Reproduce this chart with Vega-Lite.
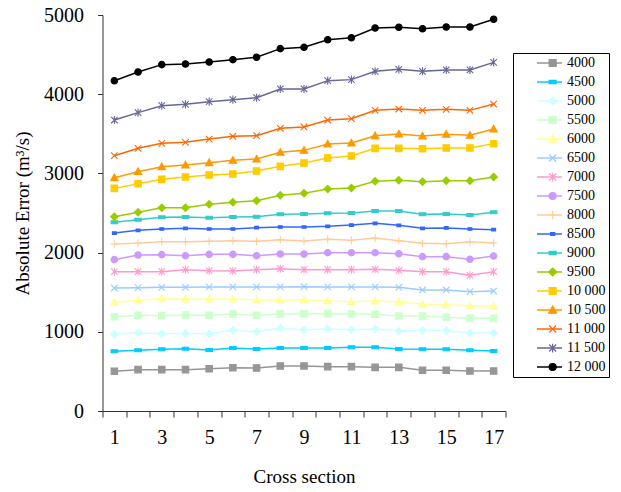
{
"$schema":"https://vega.github.io/schema/vega-lite/v6.json",
"autosize":"none",
"width":403,"height":396,
"padding":{"left":102.5,"top":15,"right":115.5,"bottom":81},
"config":{"view":{"stroke":null},"font":"Liberation Serif",
"legend":{"labelFont":"Liberation Serif","titleFont":"Liberation Serif"},
"axis":{"labelFont":"Liberation Serif","titleFont":"Liberation Serif","labelFontSize":20,"titleFontSize":19,"titleFontWeight":"normal","labelColor":"#000","titleColor":"#000","domainColor":"#333","tickColor":"#333","grid":false}},
"datasets":{"d":[
{"s":"4000","x":1,"y":501},{"s":"4000","x":2,"y":522},{"s":"4000","x":3,"y":522},{"s":"4000","x":4,"y":522},{"s":"4000","x":5,"y":534},{"s":"4000","x":6,"y":547},{"s":"4000","x":7,"y":543},{"s":"4000","x":8,"y":568},{"s":"4000","x":9,"y":568},{"s":"4000","x":10,"y":560},{"s":"4000","x":11,"y":560},{"s":"4000","x":12,"y":551},{"s":"4000","x":13,"y":551},{"s":"4000","x":14,"y":514},{"s":"4000","x":15,"y":514},{"s":"4000","x":16,"y":505},{"s":"4000","x":17,"y":505},
{"s":"4500","x":1,"y":754},{"s":"4500","x":2,"y":766},{"s":"4500","x":3,"y":779},{"s":"4500","x":4,"y":787},{"s":"4500","x":5,"y":770},{"s":"4500","x":6,"y":795},{"s":"4500","x":7,"y":783},{"s":"4500","x":8,"y":795},{"s":"4500","x":9,"y":795},{"s":"4500","x":10,"y":795},{"s":"4500","x":11,"y":804},{"s":"4500","x":12,"y":804},{"s":"4500","x":13,"y":783},{"s":"4500","x":14,"y":779},{"s":"4500","x":15,"y":779},{"s":"4500","x":16,"y":766},{"s":"4500","x":17,"y":758},
{"s":"5000","x":1,"y":968},{"s":"5000","x":2,"y":989},{"s":"5000","x":3,"y":976},{"s":"5000","x":4,"y":981},{"s":"5000","x":5,"y":976},{"s":"5000","x":6,"y":1019},{"s":"5000","x":7,"y":1001},{"s":"5000","x":8,"y":1044},{"s":"5000","x":9,"y":1027},{"s":"5000","x":10,"y":1035},{"s":"5000","x":11,"y":1027},{"s":"5000","x":12,"y":1035},{"s":"5000","x":13,"y":1010},{"s":"5000","x":14,"y":1019},{"s":"5000","x":15,"y":1014},{"s":"5000","x":16,"y":985},{"s":"5000","x":17,"y":985},
{"s":"5500","x":1,"y":1191},{"s":"5500","x":2,"y":1208},{"s":"5500","x":3,"y":1204},{"s":"5500","x":4,"y":1212},{"s":"5500","x":5,"y":1208},{"s":"5500","x":6,"y":1225},{"s":"5500","x":7,"y":1208},{"s":"5500","x":8,"y":1225},{"s":"5500","x":9,"y":1229},{"s":"5500","x":10,"y":1229},{"s":"5500","x":11,"y":1225},{"s":"5500","x":12,"y":1221},{"s":"5500","x":13,"y":1199},{"s":"5500","x":14,"y":1199},{"s":"5500","x":15,"y":1183},{"s":"5500","x":16,"y":1170},{"s":"5500","x":17,"y":1170},
{"s":"6000","x":1,"y":1372},{"s":"6000","x":2,"y":1397},{"s":"6000","x":3,"y":1418},{"s":"6000","x":4,"y":1414},{"s":"6000","x":5,"y":1414},{"s":"6000","x":6,"y":1414},{"s":"6000","x":7,"y":1402},{"s":"6000","x":8,"y":1397},{"s":"6000","x":9,"y":1406},{"s":"6000","x":10,"y":1389},{"s":"6000","x":11,"y":1380},{"s":"6000","x":12,"y":1389},{"s":"6000","x":13,"y":1380},{"s":"6000","x":14,"y":1347},{"s":"6000","x":15,"y":1342},{"s":"6000","x":16,"y":1330},{"s":"6000","x":17,"y":1322},
{"s":"6500","x":1,"y":1553},{"s":"6500","x":2,"y":1557},{"s":"6500","x":3,"y":1562},{"s":"6500","x":4,"y":1562},{"s":"6500","x":5,"y":1566},{"s":"6500","x":6,"y":1566},{"s":"6500","x":7,"y":1566},{"s":"6500","x":8,"y":1566},{"s":"6500","x":9,"y":1570},{"s":"6500","x":10,"y":1566},{"s":"6500","x":11,"y":1566},{"s":"6500","x":12,"y":1566},{"s":"6500","x":13,"y":1562},{"s":"6500","x":14,"y":1528},{"s":"6500","x":15,"y":1528},{"s":"6500","x":16,"y":1507},{"s":"6500","x":17,"y":1515},
{"s":"7000","x":1,"y":1759},{"s":"7000","x":2,"y":1759},{"s":"7000","x":3,"y":1759},{"s":"7000","x":4,"y":1784},{"s":"7000","x":5,"y":1772},{"s":"7000","x":6,"y":1768},{"s":"7000","x":7,"y":1784},{"s":"7000","x":8,"y":1797},{"s":"7000","x":9,"y":1784},{"s":"7000","x":10,"y":1784},{"s":"7000","x":11,"y":1784},{"s":"7000","x":12,"y":1789},{"s":"7000","x":13,"y":1776},{"s":"7000","x":14,"y":1759},{"s":"7000","x":15,"y":1759},{"s":"7000","x":16,"y":1713},{"s":"7000","x":17,"y":1759},
{"s":"7500","x":1,"y":1911},{"s":"7500","x":2,"y":1970},{"s":"7500","x":3,"y":1974},{"s":"7500","x":4,"y":1961},{"s":"7500","x":5,"y":1978},{"s":"7500","x":6,"y":1978},{"s":"7500","x":7,"y":1961},{"s":"7500","x":8,"y":1982},{"s":"7500","x":9,"y":1982},{"s":"7500","x":10,"y":1999},{"s":"7500","x":11,"y":1999},{"s":"7500","x":12,"y":1999},{"s":"7500","x":13,"y":1986},{"s":"7500","x":14,"y":1949},{"s":"7500","x":15,"y":1949},{"s":"7500","x":16,"y":1915},{"s":"7500","x":17,"y":1957},
{"s":"8000","x":1,"y":2109},{"s":"8000","x":2,"y":2117},{"s":"8000","x":3,"y":2138},{"s":"8000","x":4,"y":2138},{"s":"8000","x":5,"y":2142},{"s":"8000","x":6,"y":2151},{"s":"8000","x":7,"y":2142},{"s":"8000","x":8,"y":2163},{"s":"8000","x":9,"y":2146},{"s":"8000","x":10,"y":2168},{"s":"8000","x":11,"y":2155},{"s":"8000","x":12,"y":2184},{"s":"8000","x":13,"y":2151},{"s":"8000","x":14,"y":2117},{"s":"8000","x":15,"y":2113},{"s":"8000","x":16,"y":2138},{"s":"8000","x":17,"y":2121},
{"s":"8500","x":1,"y":2247},{"s":"8500","x":2,"y":2281},{"s":"8500","x":3,"y":2298},{"s":"8500","x":4,"y":2306},{"s":"8500","x":5,"y":2298},{"s":"8500","x":6,"y":2298},{"s":"8500","x":7,"y":2315},{"s":"8500","x":8,"y":2323},{"s":"8500","x":9,"y":2323},{"s":"8500","x":10,"y":2332},{"s":"8500","x":11,"y":2348},{"s":"8500","x":12,"y":2370},{"s":"8500","x":13,"y":2344},{"s":"8500","x":14,"y":2306},{"s":"8500","x":15,"y":2311},{"s":"8500","x":16,"y":2298},{"s":"8500","x":17,"y":2290},
{"s":"9000","x":1,"y":2382},{"s":"9000","x":2,"y":2416},{"s":"9000","x":3,"y":2445},{"s":"9000","x":4,"y":2449},{"s":"9000","x":5,"y":2441},{"s":"9000","x":6,"y":2449},{"s":"9000","x":7,"y":2453},{"s":"9000","x":8,"y":2483},{"s":"9000","x":9,"y":2487},{"s":"9000","x":10,"y":2496},{"s":"9000","x":11,"y":2500},{"s":"9000","x":12,"y":2525},{"s":"9000","x":13,"y":2525},{"s":"9000","x":14,"y":2483},{"s":"9000","x":15,"y":2487},{"s":"9000","x":16,"y":2475},{"s":"9000","x":17,"y":2509},
{"s":"9500","x":1,"y":2453},{"s":"9500","x":2,"y":2509},{"s":"9500","x":3,"y":2567},{"s":"9500","x":4,"y":2567},{"s":"9500","x":5,"y":2610},{"s":"9500","x":6,"y":2635},{"s":"9500","x":7,"y":2655},{"s":"9500","x":8,"y":2723},{"s":"9500","x":9,"y":2749},{"s":"9500","x":10,"y":2803},{"s":"9500","x":11,"y":2816},{"s":"9500","x":12,"y":2900},{"s":"9500","x":13,"y":2913},{"s":"9500","x":14,"y":2895},{"s":"9500","x":15,"y":2908},{"s":"9500","x":16,"y":2908},{"s":"9500","x":17,"y":2955},
{"s":"10 000","x":1,"y":2811},{"s":"10 000","x":2,"y":2870},{"s":"10 000","x":3,"y":2925},{"s":"10 000","x":4,"y":2955},{"s":"10 000","x":5,"y":2980},{"s":"10 000","x":6,"y":2992},{"s":"10 000","x":7,"y":3030},{"s":"10 000","x":8,"y":3089},{"s":"10 000","x":9,"y":3131},{"s":"10 000","x":10,"y":3194},{"s":"10 000","x":11,"y":3220},{"s":"10 000","x":12,"y":3316},{"s":"10 000","x":13,"y":3316},{"s":"10 000","x":14,"y":3312},{"s":"10 000","x":15,"y":3321},{"s":"10 000","x":16,"y":3321},{"s":"10 000","x":17,"y":3375},
{"s":"10 500","x":1,"y":2946},{"s":"10 500","x":2,"y":3022},{"s":"10 500","x":3,"y":3085},{"s":"10 500","x":4,"y":3106},{"s":"10 500","x":5,"y":3135},{"s":"10 500","x":6,"y":3165},{"s":"10 500","x":7,"y":3182},{"s":"10 500","x":8,"y":3266},{"s":"10 500","x":9,"y":3291},{"s":"10 500","x":10,"y":3371},{"s":"10 500","x":11,"y":3384},{"s":"10 500","x":12,"y":3476},{"s":"10 500","x":13,"y":3497},{"s":"10 500","x":14,"y":3472},{"s":"10 500","x":15,"y":3493},{"s":"10 500","x":16,"y":3481},{"s":"10 500","x":17,"y":3561},
{"s":"11 000","x":1,"y":3224},{"s":"11 000","x":2,"y":3317},{"s":"11 000","x":3,"y":3380},{"s":"11 000","x":4,"y":3392},{"s":"11 000","x":5,"y":3434},{"s":"11 000","x":6,"y":3468},{"s":"11 000","x":7,"y":3476},{"s":"11 000","x":8,"y":3569},{"s":"11 000","x":9,"y":3586},{"s":"11 000","x":10,"y":3674},{"s":"11 000","x":11,"y":3691},{"s":"11 000","x":12,"y":3796},{"s":"11 000","x":13,"y":3813},{"s":"11 000","x":14,"y":3796},{"s":"11 000","x":15,"y":3809},{"s":"11 000","x":16,"y":3796},{"s":"11 000","x":17,"y":3876},
{"s":"11 500","x":1,"y":3674},{"s":"11 500","x":2,"y":3767},{"s":"11 500","x":3,"y":3855},{"s":"11 500","x":4,"y":3872},{"s":"11 500","x":5,"y":3906},{"s":"11 500","x":6,"y":3931},{"s":"11 500","x":7,"y":3956},{"s":"11 500","x":8,"y":4066},{"s":"11 500","x":9,"y":4066},{"s":"11 500","x":10,"y":4171},{"s":"11 500","x":11,"y":4184},{"s":"11 500","x":12,"y":4289},{"s":"11 500","x":13,"y":4314},{"s":"11 500","x":14,"y":4289},{"s":"11 500","x":15,"y":4306},{"s":"11 500","x":16,"y":4306},{"s":"11 500","x":17,"y":4402},
{"s":"12 000","x":1,"y":4170},{"s":"12 000","x":2,"y":4280},{"s":"12 000","x":3,"y":4373},{"s":"12 000","x":4,"y":4381},{"s":"12 000","x":5,"y":4406},{"s":"12 000","x":6,"y":4436},{"s":"12 000","x":7,"y":4466},{"s":"12 000","x":8,"y":4575},{"s":"12 000","x":9,"y":4592},{"s":"12 000","x":10,"y":4688},{"s":"12 000","x":11,"y":4713},{"s":"12 000","x":12,"y":4836},{"s":"12 000","x":13,"y":4845},{"s":"12 000","x":14,"y":4827},{"s":"12 000","x":15,"y":4848},{"s":"12 000","x":16,"y":4848},{"s":"12 000","x":17,"y":4946}
]},
"data":{"name":"d"},
"encoding":{
"y":{"field":"y","type":"quantitative","scale":{"domain":[0,5000],"nice":false},"axis":{"values":[0,1000,2000,3000,4000,5000],"format":"d","tickSize":5,"labelPadding":14,"title":"Absolute Error (m³/s)","titlePadding":11}}
},
"layer":[
{"mark":{"type":"line","strokeWidth":1.5},
"encoding":{
"x":{"field":"x","type":"quantitative","scale":{"domain":[0.5,17.5],"nice":false,"zero":false},"axis":{"orient":"bottom","values":[0.5,1.5,2.5,3.5,4.5,5.5,6.5,7.5,8.5,9.5,10.5,11.5,12.5,13.5,14.5,15.5,16.5,17.5],"labels":false,"tickSize":6,"title":"Cross section","titlePadding":50}},
"color":{"field":"s","type":"nominal","sort":["4000","4500","5000","5500","6000","6500","7000","7500","8000","8500","9000","9500","10 000","10 500","11 000","11 500","12 000"],"scale":{"range":["#969696","#00CCFF","#CCFFFF","#CCFFCC","#FFFF99","#99CCFF","#FF99CC","#CC99FF","#FFCC99","#3366FF","#33CCCC","#99CC00","#FFCC00","#FF9900","#FF6600","#666699","#000000"]},
"legend":{"title":"\u00a0","titleOrient":"left","titleFontSize":2,"titlePadding":20,"orient":"none","legendX":410.5,"legendY":38,"padding":3,"strokeColor":"#000","labelFont":"Liberation Serif","labelFontSize":14,"labelColor":"#000","symbolType":"stroke","symbolSize":625,"symbolStrokeWidth":1.5,"symbolOpacity":1,"rowPadding":5,"clipHeight":14,"labelOffset":4,"labelExpr":"datum.label + '  '"}}
}},
{"mark":{"type":"point","filled":true,"opacity":1,"size":42,"strokeWidth":1.1},
"encoding":{
"x":{"field":"x","type":"quantitative","axis":{"orient":"bottom","values":[1,3,5,7,9,11,13,15,17],"ticks":false,"domain":false,"title":null,"labelPadding":16}},
"fill":{"field":"s","type":"nominal","scale":{"domain":["4000","4500","5000","5500","6000","6500","7000","7500","8000","8500","9000","9500","10 000","10 500","11 000","11 500","12 000"],"range":["#969696","#00CCFF","#CCFFFF","#CCFFCC","#FFFF99","#99CCFF","#FF99CC","#CC99FF","#FFCC99","#3366FF","#33CCCC","#99CC00","#FFCC00","#FF9900","#FF6600","#666699","#000000"]},
"legend":{"title":null,"orient":"none","legendX":440.15,"legendY":38,"padding":3,"labelFont":"Liberation Serif","labelFontSize":14,"labelColor":"rgba(0,0,0,0)","labelExpr":"' '","symbolSize":49,"symbolStrokeWidth":1.2,"symbolOpacity":1,"rowPadding":5,"clipHeight":14}},
"stroke":{"field":"s","type":"nominal","scale":{"domain":["4000","4500","5000","5500","6000","6500","7000","7500","8000","8500","9000","9500","10 000","10 500","11 000","11 500","12 000"],"range":["#969696","#00CCFF","#CCFFFF","#CCFFCC","#FFFF99","#99CCFF","#FF99CC","#CC99FF","#FFCC99","#3366FF","#33CCCC","#99CC00","#FFCC00","#FF9900","#FF6600","#666699","#000000"]},
"legend":{"title":null,"orient":"none","legendX":440.15,"legendY":38,"padding":3,"labelFont":"Liberation Serif","labelFontSize":14,"labelColor":"rgba(0,0,0,0)","labelExpr":"' '","symbolSize":49,"symbolStrokeWidth":1.2,"symbolOpacity":1,"rowPadding":5,"clipHeight":14}},
"shape":{"field":"s","type":"nominal","scale":{"domain":["4000","4500","5000","5500","6000","6500","7000","7500","8000","8500","9000","9500","10 000","10 500","11 000","11 500","12 000"],"range":["M-1,-1H1V1H-1Z","M-1,-0.45H1V0.45H-1Z","M0,-1.15L1.15,0L0,1.15L-1.15,0Z","M-1,-1H1V1H-1Z","M0,-1.15L1.15,0.9H-1.15Z","M-1,-1L1,1M-1,1L1,-1","M-1,-1L1,1M-1,1L1,-1M0,-1.25V1.25","M-1,0A1,1,0,1,1,1,0A1,1,0,1,1,-1,0Z","M-1.2,0H1.2M0,-1.2V1.2","M-0.6,-0.4H0.6V0.4H-0.6Z","M-1,-0.45H1V0.45H-1Z","M0,-1.15L1.15,0L0,1.15L-1.15,0Z","M-1,-1H1V1H-1Z","M0,-1.15L1.15,0.9H-1.15Z","M-1,-1L1,1M-1,1L1,-1","M-1,-1L1,1M-1,1L1,-1M0,-1.25V1.25","M-1,0A1,1,0,1,1,1,0A1,1,0,1,1,-1,0Z"]},
"legend":{"title":null,"orient":"none","legendX":440.15,"legendY":38,"padding":3,"labelFont":"Liberation Serif","labelFontSize":14,"labelColor":"rgba(0,0,0,0)","labelExpr":"' '","symbolSize":49,"symbolStrokeWidth":1.2,"symbolOpacity":1,"rowPadding":5,"clipHeight":14}}
}}
],
"resolve":{"axis":{"x":"independent"}}
}
